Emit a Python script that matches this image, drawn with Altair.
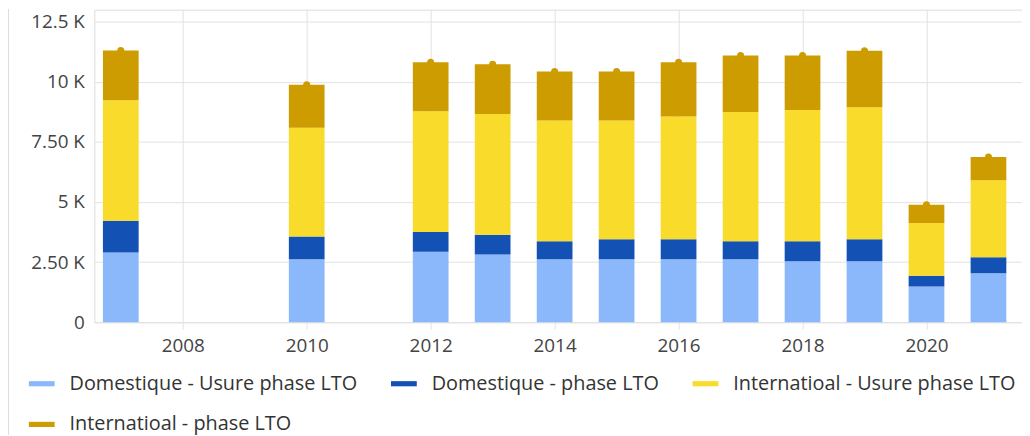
import altair as alt
import pandas as pd

years = [2007, 2010, 2012, 2013, 2014, 2015, 2016, 2017, 2018, 2019, 2020, 2021]
dom_usure = [2897, 2620, 2926, 2815, 2620, 2620, 2620, 2620, 2537, 2537, 1490, 2041]
dom_lto = [1325, 940, 828, 827, 745, 828, 828, 745, 828, 911, 442, 662]
int_usure = [5008, 4524, 5021, 5021, 5025, 4942, 5107, 5381, 5464, 5492, 2194, 3203]
int_lto = [2070, 1796, 2040, 2070, 2040, 2040, 2260, 2347, 2264, 2347, 758, 965]

series = [
    "Domestique - Usure phase LTO",
    "Domestique - phase LTO",
    "Internatioal - Usure phase LTO",
    "Internatioal - phase LTO",
]
colors = ["#8AB8FA", "#1351B4", "#F9DC2B", "#CC9C00"]

x_ticks = [2008, 2010, 2012, 2014, 2016, 2018, 2020]
y_ticks = [0, 2500, 5000, 7500, 10000, 12500]
y_tick_labels = ["0", "2.50 K", "5 K", "7.50 K", "10 K", "12.5 K"]

rows = []
for i, vals in enumerate([dom_usure, dom_lto, int_usure, int_lto]):
    for yr, v in zip(years, vals):
        rows.append({"year": yr, "value": v, "series": series[i], "idx": i})
df = pd.DataFrame(rows)

label_expr = " : ".join(
    [f"datum.value == {v} ? '{t}'" for v, t in zip(y_ticks, y_tick_labels)]
) + " : ''"

FONT = "Open Sans"
GRID = "#e2e2e2"

x_enc = alt.X(
    "year:Q",
    scale=alt.Scale(domain=[2006.653, 2021.461], nice=False, zero=False),
    axis=alt.Axis(
        values=x_ticks, format="d", title=None, grid=True, gridColor=GRID,
        domain=False, tickColor=GRID, tickSize=7, labelFontSize=19,
        labelColor="#444444", labelFont=FONT, labelPadding=8,
    ),
)

bars = alt.Chart(df).mark_bar(size=36).encode(
    x=x_enc,
    y=alt.Y(
        "value:Q",
        stack="zero",
        scale=alt.Scale(domain=[0, 13000], nice=False),
        axis=alt.Axis(
            values=y_ticks, labelExpr=label_expr, title=None, ticks=False,
            domain=False, gridColor=GRID, labelFontSize=19, labelColor="#444444",
            labelFont=FONT, labelPadding=10,
        ),
    ),
    color=alt.Color(
        "series:N",
        scale=alt.Scale(domain=series, range=colors),
        legend=alt.Legend(
            title=None, orient="none", legendX=-66, legendY=364, columns=3,
            direction="horizontal", symbolType="M-1,-0.2H1V0.2H-1Z",
            symbolSize=676, symbolStrokeWidth=0, labelFontSize=20,
            labelFont=FONT, labelColor="#333333", labelOffset=15,
            columnPadding=33, rowPadding=18, labelLimit=0, padding=0,
        ),
    ),
    order=alt.Order("idx:Q", sort="ascending"),
)

caps = alt.Chart(df).transform_aggregate(
    total="sum(value)", groupby=["year"]
).mark_point(filled=True, shape="circle", size=50, color="#CC9C00", opacity=1).encode(
    x=alt.X("year:Q"),
    y=alt.Y("total:Q"),
)

border = alt.Chart(df).mark_rule(color="#dddddd", strokeWidth=1).encode(
    x=alt.value(-86.5), y=alt.value(0), y2=alt.value(428)
)

chart = alt.layer(bars, caps, border).properties(
    width=935, height=315,
    autosize=alt.AutoSizeParams(type="none"),
    padding={"left": 87, "top": 0, "right": 0, "bottom": 113},
).configure_view(stroke=None).configure(font=FONT)

chart.save("out.html", embed_options={"renderer": "svg", "actions": False})
